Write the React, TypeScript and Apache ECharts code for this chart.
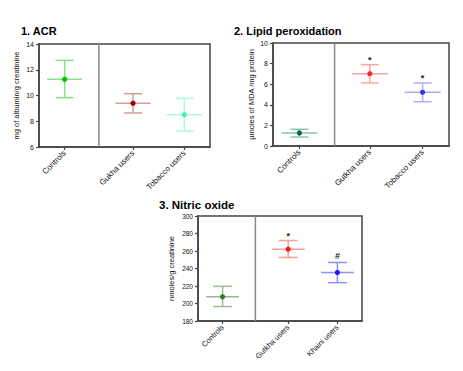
import React, { useEffect, useRef } from "react";
import * as echarts from "echarts";

// ---- data ----
const acrCategories = ["Controls", "Gukha users", "Tobacco users"];
const acrMean = [11.26, 9.39, 8.51];
const acrLow = [9.83, 8.64, 7.24];
const acrHigh = [12.73, 10.14, 9.78];
const acrMarks = ["", "", ""];

const lpoCategories = ["Controls", "Gutkha users", "Tobacco users"];
const lpoMean = [1.27, 7.02, 5.21];
const lpoLow = [0.87, 6.12, 4.3];
const lpoHigh = [1.62, 7.9, 6.12];
const lpoMarks = ["", "*", "*"];

const noCategories = ["Controls", "Gutkha users", "Khaini users"];
const noMean = [207.7, 262.1, 235.5];
const noLow = [196.5, 252.6, 223.8];
const noHigh = [219.6, 272.0, 246.9];
const noMarks = ["", "*", "#"];

const acrTicks = { min: 6, max: 14, interval: 2 };
const lpoTicks = { min: 0, max: 10, interval: 2 };
const noTicks = { min: 180, max: 300, interval: 20 };

// ---- layout / style ----
const xSlots = [3, 11, 17];
const dividerAt = 7;
const FONT = "Liberation Sans, Arial, sans-serif";

const panels = [
  {
    title: "1. ACR",
    titlePos: { left: 16, top: 20, size: 11 },
    grid: { left: 39, top: 44, width: 171, height: 103 },
    cats: acrCategories, mean: acrMean, low: acrLow, high: acrHigh, marks: acrMarks,
    ticks: acrTicks,
    yName: "mg of albumin/g creatinine", nameGap: 19, tickFont: 7, catFont: 8,
    pointColors: ["#00c000", "#990000", "#40f0b0"],
    lineColors: ["#86e486", "#d69c9c", "#aef8de"],
    capHalf: 9, meanHalf: 17.5,
  },
  {
    title: "2. Lipid peroxidation",
    titlePos: { left: 229, top: 20, size: 11 },
    grid: { left: 273, top: 43, width: 176, height: 103 },
    cats: lpoCategories, mean: lpoMean, low: lpoLow, high: lpoHigh, marks: lpoMarks,
    ticks: lpoTicks,
    yName: "\u00b5moles of MDA /mg protein", nameGap: 18, tickFont: 7, catFont: 8,
    pointColors: ["#006a40", "#ff2020", "#3030ff"],
    lineColors: ["#92c0b0", "#ffa4a4", "#acacff"],
    capHalf: 9, meanHalf: 18,
  },
  {
    title: "3. Nitric oxide",
    titlePos: { left: 154, top: 194, size: 11.5 },
    grid: { left: 198, top: 216, width: 164, height: 105 },
    cats: noCategories, mean: noMean, low: noLow, high: noHigh, marks: noMarks,
    ticks: noTicks,
    yName: "nmoles/g creatinine", nameGap: 23, tickFont: 6.5, catFont: 7.5,
    pointColors: ["#2e7a1a", "#ff1a1a", "#1a1aff"],
    lineColors: ["#a2b698", "#ff9c9c", "#9090ff"],
    capHalf: 9.5, meanHalf: 16.5,
  },
];

function buildOption() {
  const grid: any[] = [];
  const xAxis: any[] = [];
  const yAxis: any[] = [];
  const series: any[] = [];
  const title: any[] = [];

  panels.forEach((p, i) => {
    title.push({
      text: p.title,
      left: p.titlePos.left,
      top: p.titlePos.top,
      textStyle: { fontSize: p.titlePos.size, fontWeight: "bold", color: "#000", fontFamily: FONT },
    });
    grid.push({ ...p.grid, show: true, borderColor: "#444", borderWidth: 1.5, backgroundColor: "transparent" });
    xAxis.push({
      type: "value",
      gridIndex: i,
      min: 0,
      max: 20,
      splitLine: { show: false },
      axisLine: { show: true, lineStyle: { color: "#444", width: 1.5 } },
      axisTick: { show: true, customValues: xSlots, length: 3, lineStyle: { color: "#444", width: 1.2 } },
      axisLabel: {
        customValues: xSlots,
        rotate: 45,
        margin: 5,
        fontSize: p.catFont,
        color: "#111",
        fontFamily: FONT,
        formatter: (v: number) => {
          const k = xSlots.indexOf(v);
          return k >= 0 ? p.cats[k] : "";
        },
      },
    });
    yAxis.push({
      type: "value",
      gridIndex: i,
      min: p.ticks.min,
      max: p.ticks.max,
      interval: p.ticks.interval,
      splitLine: { show: false },
      axisLine: { show: true, lineStyle: { color: "#444", width: 1.5 } },
      axisTick: { show: true, length: 3, lineStyle: { color: "#444", width: 1.2 } },
      axisLabel: { fontSize: p.tickFont, color: "#111", margin: 5, fontFamily: FONT },
      name: p.yName,
      nameLocation: "middle",
      nameGap: p.nameGap,
      nameTextStyle: { fontSize: 7.5, color: "#111", fontFamily: FONT },
    });
    series.push({
      type: "line",
      xAxisIndex: i,
      yAxisIndex: i,
      data: [
        [dividerAt, p.ticks.min],
        [dividerAt, p.ticks.max],
      ],
      symbol: "none",
      silent: true,
      lineStyle: { color: "#8a8a8a", width: 1.5 },
    });
    series.push({
      type: "custom",
      xAxisIndex: i,
      yAxisIndex: i,
      silent: true,
      encode: { x: 0, y: [1, 2, 3] },
      data: p.mean.map((m, k) => [xSlots[k], m, p.low[k], p.high[k], k]),
      renderItem: (params: any, api: any) => {
        const x = api.value(0);
        const k = api.value(4);
        const pm = api.coord([x, api.value(1)]);
        const pl = api.coord([x, api.value(2)]);
        const ph = api.coord([x, api.value(3)]);
        const lc = p.lineColors[k];
        const pc = p.pointColors[k];
        const ls = { stroke: lc, lineWidth: 1.5 };
        const children: any[] = [
          { type: "line", shape: { x1: ph[0], y1: ph[1], x2: pl[0], y2: pl[1] }, style: ls },
          { type: "line", shape: { x1: ph[0] - p.capHalf, y1: ph[1], x2: ph[0] + p.capHalf, y2: ph[1] }, style: ls },
          { type: "line", shape: { x1: pl[0] - p.capHalf, y1: pl[1], x2: pl[0] + p.capHalf, y2: pl[1] }, style: ls },
          { type: "line", shape: { x1: pm[0] - p.meanHalf, y1: pm[1], x2: pm[0] + p.meanHalf, y2: pm[1] }, style: ls },
          { type: "circle", shape: { cx: pm[0], cy: pm[1], r: 2.6 }, style: { fill: pc, stroke: null } },
        ];
        const mark = p.marks[k];
        if (mark) {
          children.push({
            type: "text",
            style: {
              text: mark,
              x: ph[0],
              y: ph[1] - (mark === "#" ? 2 : 0),
              align: "center",
              verticalAlign: "bottom",
              fontSize: 9,
              fontWeight: "bold",
              fontFamily: FONT,
              fill: "#222",
            },
          });
        }
        return { type: "group", children };
      },
    });
  });

  return { animation: false, backgroundColor: "#fff", title, grid, xAxis, yAxis, series };
}

export default function App() {
  const ref = useRef<HTMLDivElement>(null);
  useEffect(() => {
    if (!ref.current) return;
    const chart = echarts.init(ref.current, null, { renderer: "svg" });
    chart.setOption(buildOption() as any);
    return () => chart.dispose();
  }, []);
  return (
    <div
      ref={ref}
      style={{ position: "fixed", left: 0, top: 0, width: 463, height: 371, background: "#fff" }}
    />
  );
}
